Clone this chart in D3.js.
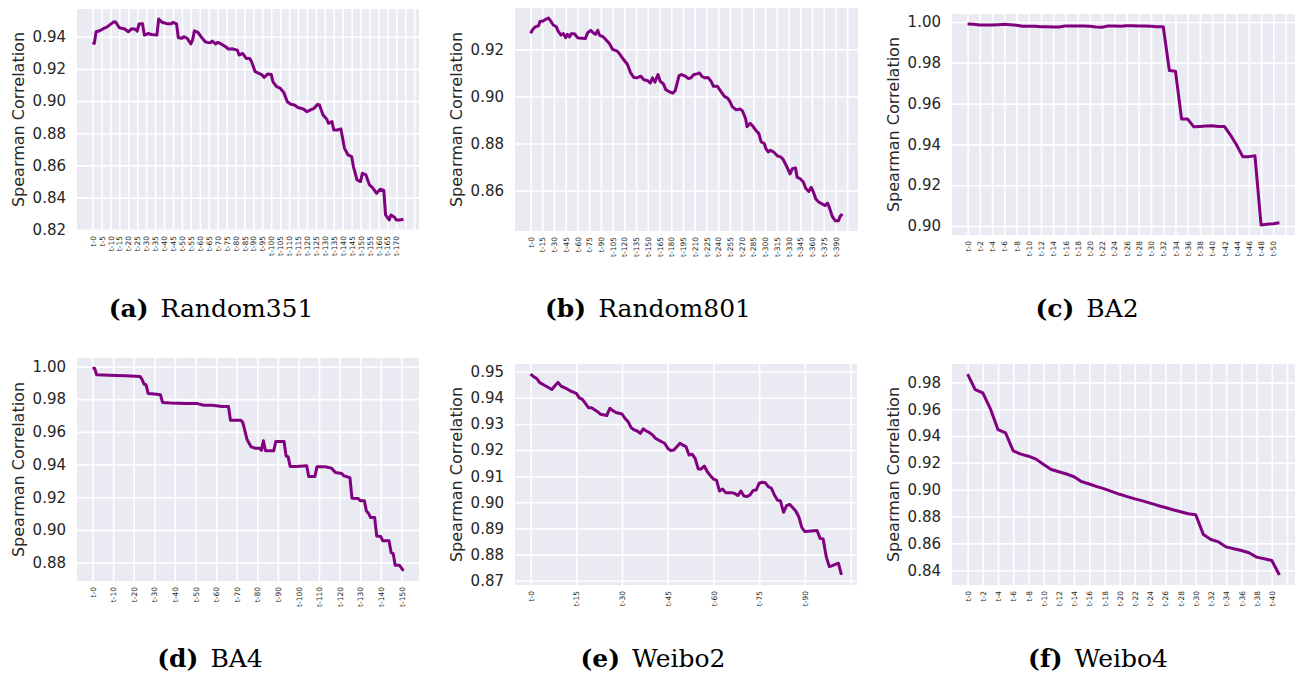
<!DOCTYPE html>
<html>
<head>
<meta charset="utf-8">
<script src="https://cdn.jsdelivr.net/npm/d3@7"></script>
<style>
  body { margin: 0; background: #ffffff; }
  svg { display: block; }
</style>
</head>
<body>
<svg id="fig" width="1296" height="678"></svg>
<script>
// Spearman correlation at each step (t-k); steps list the polyline vertices.
const random351Steps = [0,1,2,4,6,8,10,12,13,15,18,20,22,24,25,26,28,29,31,33,36,37,39,42,44,45,47,48,50,51,53,55,56,57,59,61,63,64,66,67,69,70,72,75,76,78,81,82,84,86,88,89,91,94,95,96,98,100,101,103,105,107,109,111,113,115,118,120,122,124,126,127,129,131,132,134,135,137,139,141,143,145,146,148,150,151,153,155,157,159,161,163,164,166,167,169,170,172,174];
const random351Values = [0.9365,0.9359,0.9431,0.9437,0.9450,0.9460,0.9477,0.9493,0.9490,0.9456,0.9448,0.9431,0.9450,0.9446,0.9435,0.9479,0.9480,0.9410,0.9420,0.9414,0.9410,0.9510,0.9490,0.9480,0.9480,0.9490,0.9480,0.9394,0.9390,0.9400,0.9390,0.9355,0.9380,0.9437,0.9427,0.9396,0.9370,0.9365,0.9363,0.9373,0.9355,0.9365,0.9355,0.9334,0.9323,0.9325,0.9317,0.9286,0.9296,0.9265,0.9265,0.9245,0.9183,0.9168,0.9162,0.9147,0.9168,0.9166,0.9120,0.9090,0.9080,0.9054,0.8996,0.8980,0.8976,0.8960,0.8951,0.8934,0.8945,0.8955,0.8980,0.8976,0.8913,0.8889,0.8862,0.8872,0.8820,0.8820,0.8827,0.8706,0.8665,0.8655,0.8593,0.8510,0.8500,0.8551,0.8541,0.8479,0.8458,0.8427,0.8452,0.8444,0.8292,0.8261,0.8292,0.8278,0.8261,0.8261,0.8265];
const random351YTicks = [0.82,0.84,0.86,0.88,0.90,0.92,0.94];

const random801Steps = [0,3,6,10,12,16,20,23,26,29,33,35,39,42,45,47,50,52,56,60,65,70,73,77,80,83,86,88,93,97,101,105,111,115,119,124,128,132,136,141,145,150,153,156,159,163,166,170,173,178,182,185,187,190,193,198,202,205,209,213,216,219,223,227,231,234,239,243,248,252,255,258,263,268,271,275,277,281,285,289,292,295,299,301,304,307,311,316,320,323,326,328,332,335,339,341,345,349,352,356,359,362,365,369,373,377,380,383,386,390,394,396,399];
const random801Values = [0.9269,0.9286,0.9296,0.9300,0.9319,0.9321,0.9329,0.9333,0.9319,0.9304,0.9296,0.9279,0.9261,0.9267,0.9250,0.9264,0.9253,0.9267,0.9267,0.9250,0.9247,0.9246,0.9271,0.9281,0.9271,0.9264,0.9281,0.9261,0.9253,0.9239,0.9224,0.9200,0.9193,0.9176,0.9157,0.9136,0.9100,0.9081,0.9079,0.9086,0.9071,0.9067,0.9057,0.9079,0.9061,0.9093,0.9064,0.9053,0.9029,0.9019,0.9014,0.9024,0.9050,0.9089,0.9093,0.9086,0.9076,0.9079,0.9093,0.9096,0.9100,0.9086,0.9079,0.9081,0.9064,0.9043,0.9043,0.9024,0.9000,0.8993,0.8979,0.8957,0.8943,0.8947,0.8939,0.8907,0.8871,0.8886,0.8871,0.8853,0.8843,0.8807,0.8800,0.8779,0.8764,0.8771,0.8764,0.8747,0.8743,0.8733,0.8714,0.8700,0.8671,0.8693,0.8696,0.8657,0.8650,0.8636,0.8610,0.8596,0.8614,0.8593,0.8564,0.8550,0.8543,0.8536,0.8547,0.8521,0.8490,0.8471,0.8471,0.8490,0.8500];
const random801YTicks = [0.86,0.88,0.90,0.92];

const ba2Steps = d3.range(52);
const ba2Values = [0.9990,0.9989,0.9985,0.9985,0.9985,0.9987,0.9989,0.9987,0.9984,0.9979,0.9979,0.9979,0.9977,0.9977,0.9976,0.9976,0.9981,0.9981,0.9981,0.9981,0.9979,0.9976,0.9974,0.9981,0.9981,0.9979,0.9982,0.9982,0.9981,0.9981,0.9979,0.9977,0.9977,0.9762,0.9759,0.9524,0.9524,0.9486,0.9488,0.9490,0.9491,0.9488,0.9488,0.9446,0.9397,0.9340,0.9340,0.9344,0.9005,0.9008,0.9011,0.9016];
const ba2YTicks = [0.90,0.92,0.94,0.96,0.98,1.00];

const ba4Steps = [0,1,2,8,16,23,24,25,26,27,30,33,34,38,45,51,54,58,63,66,67,72,73,75,77,79,81,82,83,84,88,89,93,94,95,96,99,104,105,108,109,113,116,118,121,122,125,126,129,130,132,133,134,135,137,138,140,141,144,145,146,147,149,151];
const ba4Values = [0.9990,0.9990,0.9949,0.9947,0.9943,0.9939,0.9922,0.9892,0.9888,0.9835,0.9831,0.9827,0.9780,0.9776,0.9773,0.9773,0.9763,0.9763,0.9755,0.9755,0.9671,0.9671,0.9657,0.9555,0.9508,0.9500,0.9500,0.9488,0.9545,0.9484,0.9484,0.9541,0.9541,0.9453,0.9447,0.9388,0.9388,0.9392,0.9327,0.9327,0.9386,0.9386,0.9378,0.9351,0.9345,0.9331,0.9320,0.9194,0.9192,0.9178,0.9178,0.9116,0.9102,0.9076,0.9076,0.8963,0.8959,0.8933,0.8933,0.8861,0.8855,0.8784,0.8784,0.8749];
const ba4YTicks = [0.88,0.90,0.92,0.94,0.96,0.98,1.00];

const weibo2Steps = [0,1,2,3,5,7,8,9,10,12,13,15,16,17,18,19,20,22,23,25,26,27,28,30,31,32,33,34,35,36,37,38,39,40,41,43,44,45,46,47,48,49,50,51,52,53,54,55,56,57,58,59,60,61,62,63,64,66,67,68,69,70,71,72,73,74,75,76,77,78,79,80,81,82,83,84,85,86,87,88,89,90,92,94,95,96,97,98,99,101,102];
const weibo2Values = [0.9491,0.9481,0.9474,0.9458,0.9445,0.9432,0.9446,0.9459,0.9445,0.9434,0.9427,0.9417,0.9400,0.9394,0.9379,0.9362,0.9362,0.9347,0.9337,0.9332,0.9360,0.9351,0.9344,0.9338,0.9321,0.9309,0.9286,0.9277,0.9273,0.9264,0.9281,0.9273,0.9267,0.9258,0.9245,0.9232,0.9226,0.9207,0.9198,0.9200,0.9213,0.9226,0.9219,0.9213,0.9181,0.9184,0.9168,0.9128,0.9128,0.9139,0.9117,0.9102,0.9089,0.9085,0.9043,0.9051,0.9037,0.9037,0.9034,0.9026,0.9043,0.9024,0.9022,0.9028,0.9045,0.9047,0.9073,0.9077,0.9075,0.9060,0.9054,0.9028,0.9009,0.9005,0.8962,0.8987,0.8992,0.8980,0.8967,0.8945,0.8903,0.8888,0.8890,0.8892,0.8862,0.8860,0.8792,0.8754,0.8758,0.8767,0.8722];
const weibo2YTicks = [0.87,0.88,0.89,0.90,0.91,0.92,0.93,0.94,0.95];

const weibo4Steps = d3.range(42);
const weibo4Values = [0.9862,0.9746,0.9721,0.9603,0.9447,0.9423,0.9290,0.9265,0.9250,0.9228,0.9188,0.9151,0.9134,0.9117,0.9097,0.9060,0.9043,0.9023,0.9006,0.8986,0.8966,0.8949,0.8932,0.8917,0.8900,0.8883,0.8868,0.8851,0.8836,0.8821,0.8814,0.8666,0.8629,0.8611,0.8574,0.8560,0.8547,0.8530,0.8498,0.8486,0.8473,0.8365];
const weibo4YTicks = [0.84,0.86,0.88,0.90,0.92,0.94,0.96,0.98];

// Layout of the six axes: [left, top, right, bottom] and caption anchor.
const panels = [
  { steps: random351Steps, values: random351Values, count: 175, every: 5,  yTicks: random351YTicks, tag: "(a)", name: "Random351", box: [77, 9, 419, 230],    cap: [211, 317] },
  { steps: random801Steps, values: random801Values, count: 400, every: 15, yTicks: random801YTicks, tag: "(b)", name: "Random801", box: [515, 8, 858, 231],   cap: [648, 317] },
  { steps: ba2Steps,       values: ba2Values,       count: 52,  every: 2,  yTicks: ba2YTicks,       tag: "(c)", name: "BA2",       box: [952, 14, 1295, 235], cap: [1087, 317] },
  { steps: ba4Steps,       values: ba4Values,       count: 152, every: 10, yTicks: ba4YTicks,       tag: "(d)", name: "BA4",       box: [77, 358, 419, 581],  cap: [210, 667] },
  { steps: weibo2Steps,    values: weibo2Values,    count: 103, every: 15, yTicks: weibo2YTicks,    tag: "(e)", name: "Weibo2",    box: [515, 364, 857, 585], cap: [653, 667] },
  { steps: weibo4Steps,    values: weibo4Values,    count: 42,  every: 2,  yTicks: weibo4YTicks,    tag: "(f)", name: "Weibo4",    box: [952, 364, 1295, 585], cap: [1098, 667] }
];

const svg = d3.select("#fig");
const ink = "#262626";

panels.forEach(p => {
  const [x0, y0, x1, y1] = p.box;
  const last = p.count - 1;
  const mx = 0.05 * last;
  const x = d3.scaleLinear().domain([-mx, last + mx]).range([x0, x1]);
  const ext = d3.extent(p.values);
  const my = 0.05 * (ext[1] - ext[0]);
  const y = d3.scaleLinear().domain([ext[0] - my, ext[1] + my]).range([y1, y0]);

  const g = svg.append("g");

  g.append("rect")
    .attr("x", x0).attr("y", y0)
    .attr("width", x1 - x0).attr("height", y1 - y0)
    .attr("fill", "#EAEAF2");

  // horizontal grid + y tick labels
  const yAxis = g.append("g")
    .attr("transform", `translate(${x0},0)`)
    .call(d3.axisLeft(y).tickValues(p.yTicks).tickFormat(d3.format(".2f"))
      .tickSize(-(x1 - x0)).tickPadding(11));
  yAxis.select(".domain").remove();
  yAxis.selectAll("line").attr("stroke", "#ffffff").attr("stroke-width", 1.6);
  yAxis.selectAll("text")
    .attr("fill", ink)
    .style("font-family", "'DejaVu Sans', sans-serif")
    .style("font-size", "15px");

  // vertical grid + rotated step labels
  const xTicks = d3.range(0, last + mx, p.every);
  const xAxis = g.append("g")
    .attr("transform", `translate(0,${y1})`)
    .call(d3.axisBottom(x).tickValues(xTicks)
      .tickFormat(d => d <= last ? "t-" + d : "")
      .tickSize(-(y1 - y0)));
  xAxis.select(".domain").remove();
  xAxis.selectAll("line").attr("stroke", "#ffffff").attr("stroke-width", 1.6);
  xAxis.selectAll("text")
    .attr("transform", "rotate(-90)")
    .attr("text-anchor", "end")
    .attr("x", -6).attr("y", 0).attr("dy", "0.35em")
    .attr("fill", ink)
    .style("font-family", "'DejaVu Sans', sans-serif")
    .style("font-size", "7.5px");

  // the correlation curve
  const pts = p.steps.map((s, i) => [s, p.values[i]]);
  g.append("path")
    .datum(pts)
    .attr("fill", "none")
    .attr("stroke", "#800080")
    .attr("stroke-width", 3)
    .attr("stroke-linejoin", "round")
    .attr("stroke-linecap", "butt")
    .attr("d", d3.line().x(d => x(d[0])).y(d => y(d[1])));

  // y axis title
  g.append("text")
    .attr("transform", `translate(${x0 - 59},${(y0 + y1) / 2}) rotate(-90)`)
    .attr("text-anchor", "middle")
    .attr("dy", "0.35em")
    .attr("fill", ink)
    .style("font-family", "'DejaVu Sans', sans-serif")
    .style("font-size", "16px")
    .text("Spearman Correlation");

  // sub-figure caption
  const cap = g.append("text")
    .attr("x", p.cap[0]).attr("y", p.cap[1])
    .attr("text-anchor", "middle")
    .attr("fill", "#000000")
    .style("font-family", "'DejaVu Serif', serif")
    .style("font-size", "25px");
  cap.append("tspan").style("font-weight", "bold").text(p.tag);
  cap.append("tspan").attr("dx", 12).text(p.name);
});
</script>
</body>
</html>
